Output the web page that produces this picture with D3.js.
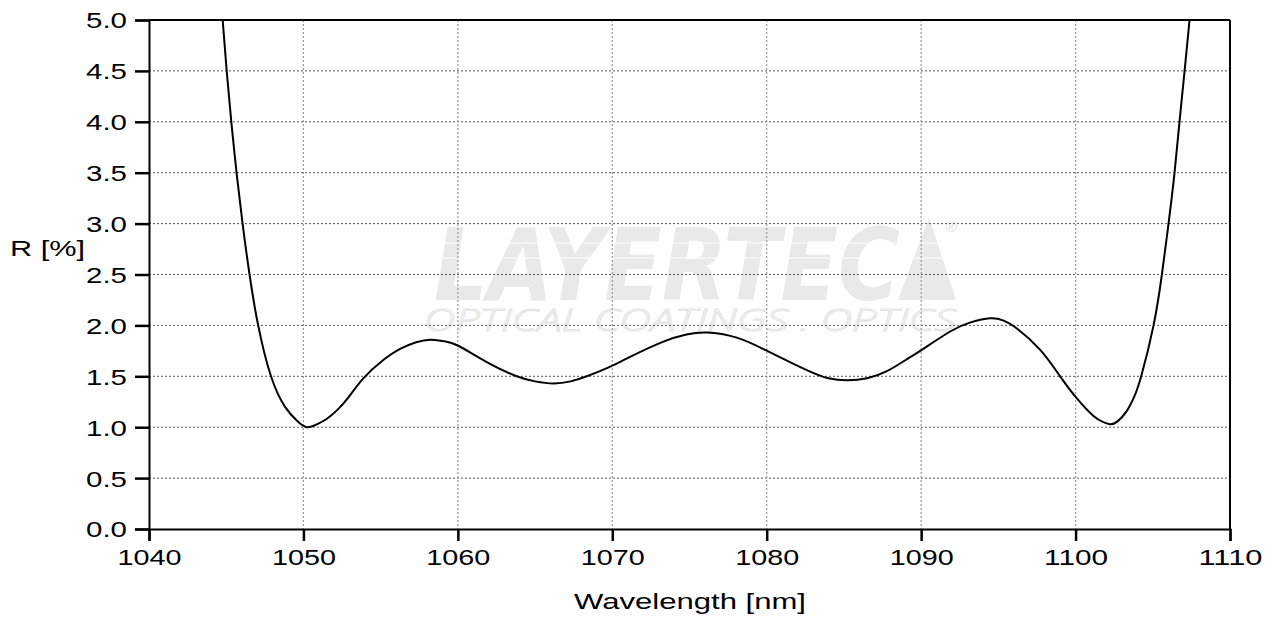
<!DOCTYPE html>
<html><head><meta charset="utf-8">
<script src="https://cdn.jsdelivr.net/npm/d3@7"></script>
<style>
html,body{margin:0;padding:0;background:#fff;}
svg{display:block;}
text{font-family:"Liberation Sans",Arial,sans-serif;}
</style></head>
<body>
<svg id="chart" width="1276" height="617"></svg>
<script>
const wavelength = [1044.77,1045.03,1045.33,1045.67,1046.06,1046.51,1047.07,1047.90,1048.81,1049.6,1050.21,1050.9,1051.5,1052.2,1052.9,1053.88,1055.17,1056.26,1057.3,1058.2,1059.1,1060.03,1061.87,1063.81,1065.0,1066.19,1067.3,1068.35,1069.8,1071.15,1073.31,1074.8,1076.12,1078.06,1080.03,1082.6,1084.0,1085.19,1086.5,1087.78,1089.0,1090.04,1091.88,1093.2,1094.47,1095.3,1096.2,1097.71,1099.0,1100.1,1101.16,1101.8,1102.24,1102.7,1103.32,1103.8,1104.25,1105.05,1105.59,1106.02,1106.41,1106.73,1107.06,1107.38];
const reflectance = [5.0,4.5,4.0,3.5,3.0,2.5,2.0,1.5,1.2,1.06,1.0,1.03,1.08,1.17,1.29,1.48,1.66,1.77,1.835,1.86,1.845,1.80,1.64,1.50,1.45,1.43,1.45,1.50,1.59,1.69,1.84,1.91,1.93,1.88,1.75,1.56,1.48,1.46,1.48,1.55,1.66,1.76,1.94,2.03,2.07,2.05,1.97,1.76,1.50,1.28,1.11,1.05,1.03,1.055,1.16,1.30,1.5,2.0,2.5,3.0,3.5,4.0,4.5,5.0];
const xTicks = [1040,1050,1060,1070,1080,1090,1100,1110];
const yTicks = [0.0,0.5,1.0,1.5,2.0,2.5,3.0,3.5,4.0,4.5,5.0];
const xLabel = "Wavelength [nm]";
const yLabel = "R [%]";

const svg = d3.select("#chart");
const L = 149, R = 1230, T = 20, B = 529;
const x = d3.scaleLinear().domain([1040,1110]).range([L,R]);
const y = d3.scaleLinear().domain([0,5]).range([B,T]);

// watermark
const wm = svg.append("g").attr("pointer-events","none");
wm.append("text").attr("x",434).attr("y",300)
  .attr("font-size",100).attr("font-weight",900).attr("font-style","italic")
  .attr("fill","#e9e9e9").attr("textLength",466).attr("lengthAdjust","spacingAndGlyphs")
  .style("font-family","'DejaVu Sans',sans-serif")
  .text("LAYERTEC");
wm.append("path").attr("d","M898,300 L929,217 L956,300 Z").attr("fill","#e9e9e9");
[243,258].forEach(yy=>wm.append("line").attr("x1",430).attr("x2",960).attr("y1",yy).attr("y2",yy).attr("stroke","#fff").attr("stroke-width",1.2));
wm.append("text").attr("x",951).attr("y",232).attr("font-size",15).attr("text-anchor","middle").attr("fill","#e0e0e0").text("®");
wm.append("text").attr("x",424).attr("y",331)
  .attr("font-size",32).attr("font-style","italic").attr("font-weight",300)
  .attr("fill","none").attr("stroke","#e3e3e3").attr("stroke-width",1)
  .attr("textLength",532).attr("lengthAdjust","spacingAndGlyphs")
  .style("font-family","'Open Sans',sans-serif")
  .text("OPTICAL COATINGS . OPTICS");

// grid
const grid = svg.append("g");
grid.selectAll(".gy").data(yTicks.filter(d=>d>0&&d<5)).join("line")
  .attr("x1",L).attr("x2",R).attr("y1",d=>y(d)).attr("y2",d=>y(d))
  .attr("stroke","#555").attr("stroke-width",1).attr("stroke-dasharray","2,2");
grid.selectAll(".gx").data(xTicks.filter(d=>d>1040&&d<1110)).join("line")
  .attr("x1",d=>x(d)).attr("x2",d=>x(d)).attr("y1",T).attr("y2",B)
  .attr("stroke","#999").attr("stroke-width",1.2).attr("stroke-dasharray","2,2");

// curve
svg.append("clipPath").attr("id","clip").append("rect").attr("x",L).attr("y",T).attr("width",R-L).attr("height",B-T);
const data = wavelength.map((w,i)=>[w,reflectance[i]]);
svg.append("path").datum(data).attr("clip-path","url(#clip)")
  .attr("fill","none").attr("stroke","#000").attr("stroke-width",2)
  .attr("d",d3.line().x(d=>x(d[0])).y(d=>y(d[1])).curve(d3.curveNatural));

// frame
svg.append("line").attr("x1",L).attr("x2",R).attr("y1",T).attr("y2",T).attr("stroke","#000").attr("stroke-width",2);
svg.append("line").attr("x1",R).attr("x2",R).attr("y1",T).attr("y2",B).attr("stroke","#000").attr("stroke-width",2);

// axes
const xAxis = svg.append("g").attr("transform",`translate(0,${B})`)
  .call(d3.axisBottom(x).tickValues(xTicks).tickSize(12).tickPadding(8).tickFormat(d3.format("d")));
const yAxis = svg.append("g").attr("transform",`translate(${L},0)`)
  .call(d3.axisLeft(y).tickValues(yTicks).tickSize(14).tickPadding(8).tickFormat(d3.format(".1f")));
[xAxis,yAxis].forEach(a=>{
  a.select(".domain").attr("stroke","#000").attr("stroke-width",2);
  a.selectAll(".tick line").attr("stroke","#000").attr("stroke-width",2.5);
  a.selectAll(".tick text").attr("fill","#000").attr("font-size",22)
    .attr("lengthAdjust","spacingAndGlyphs")
    .style("font-family","'Liberation Sans',Arial,sans-serif");
});
xAxis.selectAll(".tick text").attr("textLength",64).attr("dy","0.71em");
yAxis.selectAll(".tick text").attr("textLength",41).attr("dy","0.36em").attr("x",-22);

svg.append("text").attr("x",690).attr("y",609).attr("text-anchor","middle").attr("font-size",22)
  .attr("textLength",232).attr("lengthAdjust","spacingAndGlyphs").attr("fill","#000").text(xLabel);
svg.append("text").attr("x",10).attr("y",256).attr("font-size",22)
  .attr("textLength",75).attr("lengthAdjust","spacingAndGlyphs").attr("fill","#000").text(yLabel);
</script>
</body></html>
